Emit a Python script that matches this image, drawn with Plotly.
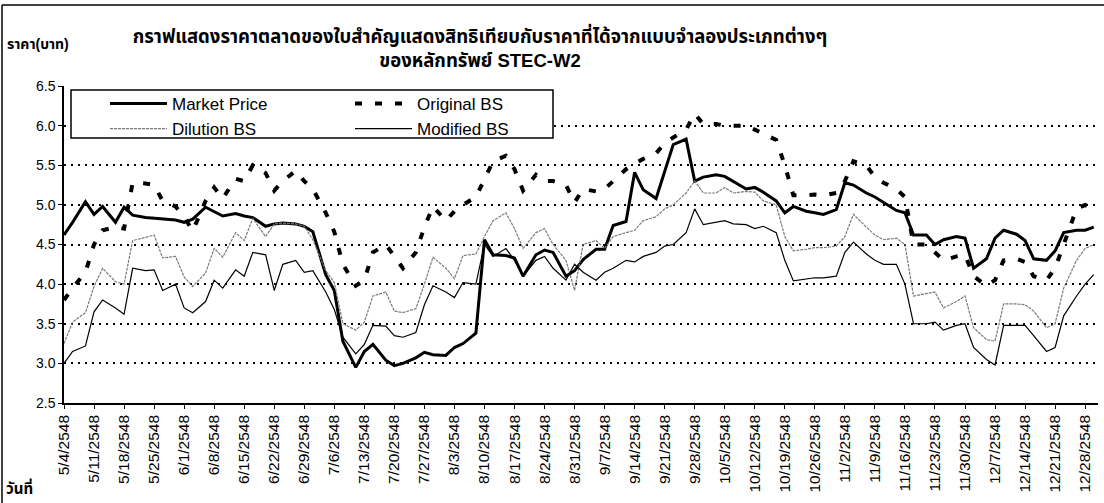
import plotly.graph_objects as go

dates = ["2005-05-04","2005-05-06","2005-05-09","2005-05-11","2005-05-13","2005-05-16","2005-05-18","2005-05-20","2005-05-23","2005-05-25","2005-05-27","2005-05-30",
         "2005-06-01","2005-06-03","2005-06-06","2005-06-08","2005-06-10","2005-06-13","2005-06-15","2005-06-17","2005-06-20","2005-06-22","2005-06-24","2005-06-27","2005-06-29",
         "2005-07-01","2005-07-04","2005-07-06","2005-07-08","2005-07-11","2005-07-13","2005-07-15","2005-07-18","2005-07-20","2005-07-22","2005-07-25","2005-07-27","2005-07-29",
         "2005-08-01","2005-08-03","2005-08-05","2005-08-08","2005-08-10","2005-08-12","2005-08-15","2005-08-17","2005-08-19","2005-08-22","2005-08-24","2005-08-26","2005-08-29","2005-08-31",
         "2005-09-02","2005-09-05","2005-09-07","2005-09-09","2005-09-12","2005-09-14","2005-09-16","2005-09-19","2005-09-21","2005-09-23","2005-09-26","2005-09-28","2005-09-30",
         "2005-10-03","2005-10-05","2005-10-07","2005-10-10","2005-10-12","2005-10-14","2005-10-17","2005-10-19","2005-10-21","2005-10-24","2005-10-26","2005-10-28","2005-10-31",
         "2005-11-02","2005-11-04","2005-11-07","2005-11-09","2005-11-11","2005-11-14","2005-11-16","2005-11-18","2005-11-21","2005-11-23","2005-11-25","2005-11-28","2005-11-30",
         "2005-12-02","2005-12-05","2005-12-07","2005-12-09","2005-12-12","2005-12-14","2005-12-16","2005-12-19","2005-12-21","2005-12-23","2005-12-26","2005-12-28","2005-12-30"]

market_price = [4.62, 4.78, 5.04, 4.88, 4.98, 4.78, 4.97, 4.87, 4.84, 4.83, 4.82, 4.81,
                4.78, 4.82, 4.97, 4.92, 4.86, 4.89, 4.86, 4.84, 4.73, 4.76, 4.77, 4.76, 4.73,
                4.66, 4.12, 3.92, 3.28, 2.95, 3.15, 3.24, 3.04, 2.97, 3.0, 3.07, 3.14, 3.11,
                3.1, 3.2, 3.25, 3.38, 4.56, 4.37, 4.36, 4.33, 4.1, 4.37, 4.43, 4.4, 4.1, 4.17,
                4.31, 4.44, 4.44, 4.74, 4.79, 5.41, 5.19, 5.08, 5.41, 5.76, 5.83, 5.3, 5.35,
                5.38, 5.36, 5.3, 5.2, 5.22, 5.16, 5.05, 4.9, 4.98, 4.92, 4.9, 4.88, 4.94,
                5.28, 5.25, 5.15, 5.1, 5.03, 4.93, 4.9, 4.62, 4.62, 4.5, 4.56, 4.6, 4.58,
                4.2, 4.32, 4.58, 4.68, 4.63, 4.55, 4.32, 4.3, 4.42, 4.65, 4.68, 4.68, 4.72]

original_bs = [3.8, 3.95, 4.15, 4.5, 4.68, 4.72, 4.7, 5.28, 5.27, 5.25, 5.05, 4.98,
               4.85, 4.67, 5.05, 5.22, 5.08, 5.33, 5.3, 5.5, 5.4, 5.18, 5.3, 5.43, 5.3,
               5.2, 4.9, 4.66, 4.25, 3.98, 4.05, 4.4, 4.5, 4.35, 4.2, 4.4, 4.72, 4.98,
               4.8, 4.92, 5.0, 5.1, 5.33, 5.55, 5.62, 5.45, 5.18, 5.38, 5.3, 5.3, 5.25, 5.03,
               5.2, 5.17, 5.2, 5.3, 5.45, 5.52, 5.58, 5.65, 5.78, 5.85, 5.95, 6.15, 6.02,
               6.02, 6.0, 6.0, 6.0, 5.95, 5.9, 5.82, 5.5, 5.12, 5.12, 5.13, 5.12, 5.15,
               5.3, 5.55, 5.5, 5.35, 5.28, 5.2, 5.1, 4.5, 4.5, 4.4, 4.3, 4.35, 4.37,
               4.1, 3.98, 4.05, 4.3, 4.32, 4.28, 4.1, 4.05, 4.2, 4.5, 4.95, 5.0, 4.95]

dilution_bs = [3.25, 3.52, 3.64, 3.97, 4.2, 4.03, 4.0, 4.55, 4.59, 4.62, 4.33, 4.35,
               4.09, 3.97, 4.14, 4.45, 4.34, 4.65, 4.55, 4.83, 4.6, 4.76, 4.77, 4.76, 4.73,
               4.56, 4.17, 4.02, 3.5, 3.42, 3.52, 3.85, 3.9, 3.66, 3.64, 3.69, 4.0, 4.34,
               4.2, 4.07, 4.36, 4.38, 4.6, 4.8, 4.9, 4.7, 4.45, 4.65, 4.7, 4.5, 4.3, 3.92,
               4.5, 4.55, 4.45, 4.6, 4.65, 4.68, 4.8, 4.85, 4.95, 5.0, 5.15, 5.3, 5.15,
               5.15, 5.22, 5.15, 5.17, 5.16, 5.05, 5.0, 4.6, 4.42, 4.44, 4.46, 4.46, 4.48,
               4.6, 4.88, 4.72, 4.62, 4.56, 4.58, 4.5, 3.85, 3.88, 3.9, 3.7, 3.78, 3.85,
               3.45, 3.3, 3.28, 3.75, 3.75, 3.74, 3.66, 3.45, 3.5, 3.95, 4.3, 4.45, 4.5]

modified_bs = [3.0, 3.15, 3.22, 3.65, 3.8, 3.7, 3.62, 4.2, 4.17, 4.18, 3.92, 4.0,
               3.7, 3.64, 3.78, 4.05, 3.95, 4.18, 4.1, 4.4, 4.37, 3.92, 4.25, 4.3, 4.15,
               4.17, 3.9, 3.68, 3.33, 3.12, 3.24, 3.48, 3.47, 3.35, 3.33, 3.39, 3.74, 3.98,
               3.9, 3.83, 4.02, 4.0, 4.5, 4.35, 4.45, 4.3, 4.1, 4.3, 4.35, 4.2, 4.05, 4.25,
               4.15, 4.05, 4.15, 4.2, 4.3, 4.28, 4.35, 4.4, 4.48, 4.5, 4.65, 4.95, 4.75,
               4.78, 4.8, 4.76, 4.75, 4.7, 4.73, 4.65, 4.3, 4.04, 4.06, 4.08, 4.08, 4.1,
               4.4, 4.53, 4.38, 4.3, 4.25, 4.25, 4.0, 3.5, 3.5, 3.52, 3.42, 3.48, 3.5,
               3.2, 3.05, 2.98, 3.48, 3.48, 3.48, 3.35, 3.15, 3.2, 3.6, 3.85, 4.0, 4.12]

tick_dates = ["2005-05-04","2005-05-11","2005-05-18","2005-05-25","2005-06-01","2005-06-08","2005-06-15","2005-06-22","2005-06-29",
              "2005-07-06","2005-07-13","2005-07-20","2005-07-27","2005-08-03","2005-08-10","2005-08-17","2005-08-24","2005-08-31",
              "2005-09-07","2005-09-14","2005-09-21","2005-09-28","2005-10-05","2005-10-12","2005-10-19","2005-10-26",
              "2005-11-02","2005-11-09","2005-11-16","2005-11-23","2005-11-30","2005-12-07","2005-12-14","2005-12-21","2005-12-28"]
tick_labels = ["5/4/2548","5/11/2548","5/18/2548","5/25/2548","6/1/2548","6/8/2548","6/15/2548","6/22/2548","6/29/2548",
               "7/6/2548","7/13/2548","7/20/2548","7/27/2548","8/3/2548","8/10/2548","8/17/2548","8/24/2548","8/31/2548",
               "9/7/2548","9/14/2548","9/21/2548","9/28/2548","10/5/2548","10/12/2548","10/19/2548","10/26/2548",
               "11/2/2548","11/9/2548","11/16/2548","11/23/2548","11/30/2548","12/7/2548","12/14/2548","12/21/2548","12/28/2548"]

title_line1 = "กราฟแสดงราคาตลาดของใบสำคัญแสดงสิทธิเทียบกับราคาที่ได้จากแบบจำลองประเภทต่างๆ"
title_line2 = "ของหลักทรัพย์ STEC-W2"
y_title = "ราคา(บาท)"
x_title = "วันที่"

FONT = "Arial, 'Liberation Sans', 'Noto Sans Thai', 'DejaVu Sans', sans-serif"

fig = go.Figure()
fig.add_trace(go.Scatter(x=dates, y=market_price, name="Market Price", mode="lines",
                         line=dict(color="black", width=3), legend="legend"))
fig.add_trace(go.Scatter(x=dates, y=dilution_bs, name="Dilution BS", mode="lines",
                         line=dict(color="#7a7a7a", width=1.2, dash="3px,1px"), legend="legend"))
fig.add_trace(go.Scatter(x=dates, y=original_bs, name="Original BS", mode="lines",
                         line=dict(color="black", width=4, dash="7px,13px"), legend="legend2"))
fig.add_trace(go.Scatter(x=dates, y=modified_bs, name="Modified BS", mode="lines",
                         line=dict(color="black", width=1.2), legend="legend2"))

W, H = 1104, 503
L, R, T, B = 64, 6, 86, 100
pw, ph = W - L - R, H - T - B

def px(xp):
    return (xp - L) / pw

def py(yp):
    return (H - B - yp) / ph

leg_common = dict(xanchor="left", yanchor="top", bgcolor="rgba(0,0,0,0)", borderwidth=0,
                  font=dict(family=FONT, size=17, color="black"), itemwidth=57,
                  tracegroupgap=0, traceorder="normal")

fig.update_layout(
    width=W, height=H,
    margin=dict(l=L, r=R, t=T, b=B, pad=0),
    paper_bgcolor="white", plot_bgcolor="white",
    font=dict(family=FONT, color="black"),
    title=dict(text="<b>" + title_line1 + "<br>" + title_line2 + "</b>",
               x=480 / W, xanchor="center", xref="container",
               y=1 - 43 / H, yanchor="top", yref="container",
               font=dict(family=FONT, size=18.5, color="black")),
    showlegend=True,
    legend=dict(x=px(105), y=py(86), **leg_common),
    legend2=dict(x=px(350), y=py(86), **leg_common),
    xaxis=dict(type="date", range=["2005-05-04", "2005-12-31"],
               tickvals=tick_dates, ticktext=tick_labels, tickangle=-90,
               tickfont=dict(family=FONT, size=15.5, color="black"),
               showgrid=False, showline=True, linecolor="black", linewidth=1.5,
               ticks="outside", ticklen=4, tickcolor="black", zeroline=False),
    yaxis=dict(range=[2.5, 6.5], dtick=0.5, tick0=2.5, tickformat=".1f",
               tickfont=dict(family=FONT, size=14, color="black"),
               showgrid=True, gridcolor="black", gridwidth=1.5, griddash="2px,5px",
               showline=True, linecolor="black", linewidth=1.5,
               ticks="outside", ticklen=4, tickcolor="black", zeroline=False),
    shapes=[
        dict(type="rect", xref="paper", yref="paper", x0=px(71), x1=px(553), y0=py(138), y1=py(90),
             line=dict(color="black", width=1.5), fillcolor="white", layer="above"),
        dict(type="line", xref="paper", yref="paper", x0=px(2), x1=px(1104), y0=py(5), y1=py(5),
             line=dict(color="black", width=1.5)),
        dict(type="line", xref="paper", yref="paper", x0=px(2), x1=px(2), y0=py(5), y1=py(503),
             line=dict(color="black", width=1.5)),
    ],
    annotations=[
        dict(text="<b>" + y_title + "</b>", xref="paper", yref="paper", x=px(5), y=py(44),
             xanchor="left", yanchor="middle", showarrow=False,
             font=dict(family=FONT, size=14, color="black")),
        dict(text="<b>" + x_title + "</b>", xref="paper", yref="paper", x=px(4), y=py(487),
             xanchor="left", yanchor="middle", showarrow=False,
             font=dict(family=FONT, size=15, color="black")),
    ],
)

fig.write_html("out.html", config={"displayModeBar": False},
               post_script="document.body.style.margin='0';")
